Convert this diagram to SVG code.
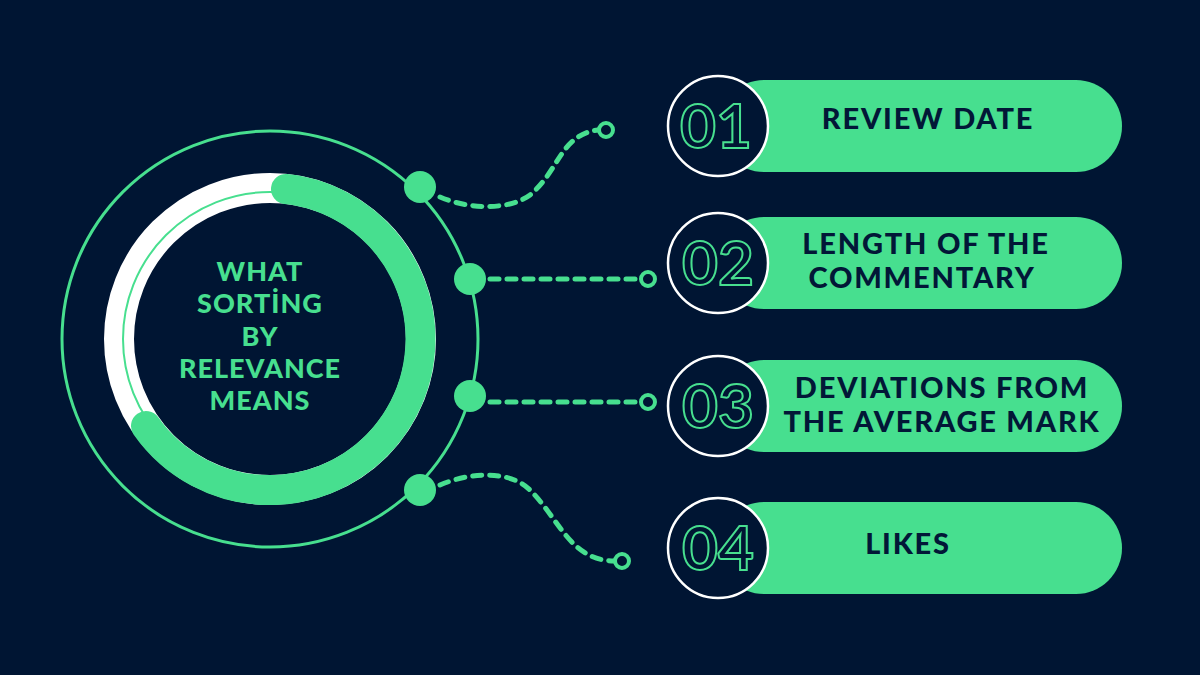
<svg xmlns="http://www.w3.org/2000/svg" width="1200" height="675" viewBox="0 0 1200 675">
<style>
.g{fill:#47df8f}
.num{font-family:"Lato","Liberation Sans",sans-serif;font-weight:700;font-size:62px;fill:none;stroke:#47df8f;stroke-width:2;text-anchor:middle}
.lbl{font-family:"Lato","Liberation Sans",sans-serif;font-weight:900;font-size:29px;letter-spacing:1.8px;fill:#021737;text-anchor:middle}
.ttl{font-family:"Lato","Liberation Sans",sans-serif;font-weight:900;font-size:27px;letter-spacing:1px;fill:#47df8f;text-anchor:middle}
.dash{fill:none;stroke:#47df8f;stroke-width:5;stroke-dasharray:9 8;stroke-linecap:round}
.end{fill:none;stroke:#47df8f;stroke-width:4}
</style>
<rect width="1200" height="675" fill="#001533"/>
<g id="hub">
<circle cx="270" cy="339" r="208" fill="none" stroke="#47df8f" stroke-width="3"/>
<circle cx="270" cy="339" r="151" fill="none" stroke="#ffffff" stroke-width="30"/>
<circle cx="270" cy="339" r="147" fill="none" stroke="#47df8f" stroke-width="2"/>
<path d="M286,189 A151,151 0 1 1 146,426" fill="none" stroke="#47df8f" stroke-width="30" stroke-linecap="round"/>
<text class="ttl" x="260" y="281">WHAT</text>
<text class="ttl" x="260" y="313">SORTİNG</text>
<text class="ttl" x="260" y="346">BY</text>
<text class="ttl" x="260" y="378">RELEVANCE</text>
<text class="ttl" x="260" y="410">MEANS</text>
</g>
<g id="connectors">
<circle class="g" cx="420" cy="187" r="16"/>
<circle class="g" cx="470" cy="279" r="16"/>
<circle class="g" cx="470" cy="396" r="16"/>
<circle class="g" cx="420" cy="490" r="16"/>
<path class="dash" d="M440,197 C470,210 510,210 530,195 C560,170 560,135 598,130"/>
<path class="dash" d="M490,279 L640,279"/>
<path class="dash" d="M490,402 L640,402"/>
<path class="dash" d="M440,485 C470,472 510,470 530,490 C560,520 570,560 614,561"/>
<circle class="end" cx="606" cy="130" r="7"/>
<circle class="end" cx="648" cy="279" r="7"/>
<circle class="end" cx="648" cy="402" r="7"/>
<circle class="end" cx="622" cy="561" r="7"/>
</g>
<g id="item1">
<rect class="g" x="718" y="80" width="404" height="92" rx="46"/>
<circle cx="718" cy="126" r="50" fill="#001533" stroke="#fff" stroke-width="2.5"/>
<text class="num" x="716" y="148">01</text>
<text class="lbl" x="928" y="129">REVIEW DATE</text>
</g>
<g id="item2">
<rect class="g" x="718" y="217" width="404" height="92" rx="46"/>
<circle cx="718" cy="263" r="50" fill="#001533" stroke="#fff" stroke-width="2.5"/>
<text class="num" x="718" y="285">02</text>
<text class="lbl" x="926" y="254">LENGTH OF THE</text>
<text class="lbl" x="922" y="288">COMMENTARY</text>
</g>
<g id="item3">
<rect class="g" x="718" y="360" width="404" height="92" rx="46"/>
<circle cx="718" cy="406" r="50" fill="#001533" stroke="#fff" stroke-width="2.5"/>
<text class="num" x="718" y="428">03</text>
<text class="lbl" x="942" y="398">DEVIATIONS FROM</text>
<text class="lbl" x="942" y="432">THE AVERAGE MARK</text>
</g>
<g id="item4">
<rect class="g" x="718" y="502" width="404" height="92" rx="46"/>
<circle cx="718" cy="548" r="50" fill="#001533" stroke="#fff" stroke-width="2.5"/>
<text class="num" x="718" y="570">04</text>
<text class="lbl" x="908" y="554">LIKES</text>
</g>
</svg>
